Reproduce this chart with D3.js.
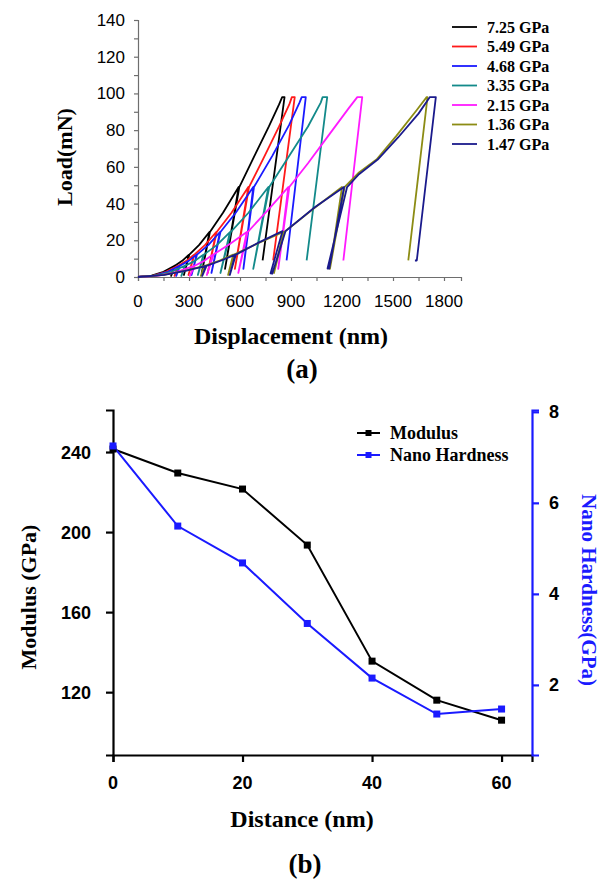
<!DOCTYPE html>
<html>
<head>
<meta charset="utf-8">
<script src="https://cdn.jsdelivr.net/npm/d3@7"></script>
<style>
  body { margin: 0; background: #fff; }
  svg { display: block; }
</style>
</head>
<body>
<div class="main"></div>
<script>
const w = 600;
const h = 882;

// ---- panel (a): load / displacement curves ----
const hardnessLabels = ['7.25 GPa', '5.49 GPa', '4.68 GPa', '3.35 GPa', '2.15 GPa', '1.36 GPa', '1.47 GPa'];
const curveColors = ['#000000', '#ff1a1a', '#1a1aff', '#138a8a', '#ff1aff', '#8c8c14', '#1a1a8c'];

// [displacement nm, load mN]
const curveBlack = [[0,0],[80,0.8],[150,2.8],[215,6.1],[195,0.6],[217,6.1],[260,8.8],[300,12.2],[270,1.1],[302,12.2],
  [360,17.5],[420,24.5],[375,2.2],[423,24.5],[500,35],[592,49],[512,4.4],[596,49],[680,65],[770,82],[830,94],[848,98],[862,98],[733,9]];
const curveRed = [[0,0],[90,0.8],[165,2.8],[235,6.1],[215,0.6],[237,6.1],[285,8.8],[330,12.2],[297,1.1],[332,12.2],
  [395,17.5],[460,24.5],[410,2.2],[463,24.5],[550,35],[649,49],[570,4.4],[653,49],[740,65],[830,82],[890,94],[905,98],[922,98],[795,9]];
const curveBlue = [[0,0],[95,0.8],[175,2.8],[245,6.1],[225,0.6],[247,6.1],[298,8.8],[345,12.2],[315,1.1],[347,12.2],
  [415,17.5],[482,24.5],[432,2.2],[485,24.5],[575,35],[678,49],[620,4.4],[682,49],[790,66],[890,83],[950,95],[963,98],[987,98],[874,9]];
const curveTeal = [[0,0],[105,0.8],[195,2.8],[275,6.1],[255,0.6],[277,6.1],[335,8.8],[385,12.2],[352,1.1],[388,12.2],
  [465,17.5],[541,24.5],[485,2.2],[545,24.5],[650,35],[767,49],[678,4.4],[772,49],[890,66],[1000,82],[1075,95],[1086,98],[1113,98],[992,9]];
const curveMagenta = [[0,0],[120,0.8],[230,2.8],[330,6.1],[305,0.6],[333,6.1],[390,8.8],[440,12.2],[405,1.1],[444,12.2],
  [540,18],[640,24.5],[590,2.2],[645,24.5],[760,36],[884,49],[825,4.4],[890,49],[1000,62],[1120,77],[1240,92],[1290,98],[1319,98],[1208,9]];
const curveOlive = [[0,0],[150,1.2],[280,3.5],[390,6.1],[370,0.6],[393,6.1],[480,9],[560,12.2],[530,1.1],[565,12.2],
  [710,18.5],[855,24.5],[800,2.2],[860,24.5],[1030,37],[1200,49],[1129,4.4],[1215,49],[1300,57],[1403,64],[1521,77],[1640,91],[1698,98],[1703,98],[1590,9]];
const curveNavy = [[0,0],[155,1.2],[285,3.5],[400,6.1],[378,0.6],[403,6.1],[490,9],[572,12.2],[540,1.1],[576,12.2],
  [715,19],[850,25],[780,2],[790,1.8],[868,25],[1040,38],[1212,49],[1125,4.6],[1115,4.6],[1230,49],[1300,56],[1410,64],[1530,76],[1650,89],[1717,98],[1752,98],[1640,9],[1629,9]];
const curves = [curveBlack, curveRed, curveBlue, curveTeal, curveMagenta, curveOlive, curveNavy];

const dispTicks = [0, 300, 600, 900, 1200, 1500, 1800];
const loadTicks = [0, 20, 40, 60, 80, 100, 120, 140];

// ---- panel (b): modulus / hardness vs distance ----
const distances = [0, 10, 20, 30, 40, 50, 60];
const modulus = [241.5, 229.5, 221.5, 193.5, 135.5, 116, 106];
const hardness = [7.25, 5.49, 4.68, 3.35, 2.15, 1.36, 1.47];
const distTicks = [0, 20, 40, 60];
const modTicks = [120, 160, 200, 240];
const hardTicks = [2, 4, 6, 8];

const serif = '"Liberation Serif", "Times New Roman", serif';
const sans = '"Liberation Sans", Arial, sans-serif';

const svg = d3.select('.main').append('svg').attr('width', w).attr('height', h);

// ===== panel (a) =====
const xA = d3.scaleLinear().domain([0, 1900]).range([138, 461]);
const yA = d3.scaleLinear().domain([0, 140]).range([277, 20]);

const gA = svg.append('g');

const axA = gA.append('g').attr('transform', 'translate(0,' + yA(0) + ')')
  .call(d3.axisBottom(xA).tickValues(d3.range(0, 1901, 150)).tickSize(4).tickFormat(''));
const ayA = gA.append('g').attr('transform', 'translate(' + xA(0) + ',0)')
  .call(d3.axisLeft(yA).tickValues(d3.range(0, 141, 10)).tickSize(4).tickFormat(''));
[axA, ayA].forEach(function (a) {
  a.selectAll('path,line').attr('stroke', '#6e6e6e').attr('stroke-width', 1.2);
});

gA.selectAll('text.xl').data(dispTicks).enter().append('text')
  .attr('x', d => xA(d)).attr('y', 307)
  .attr('text-anchor', 'middle').attr('font-family', sans).attr('font-size', 17)
  .text(d => d);
gA.selectAll('text.yl').data(loadTicks).enter().append('text')
  .attr('x', 125).attr('y', d => yA(d) + 6)
  .attr('text-anchor', 'end').attr('font-family', sans).attr('font-size', 17)
  .text(d => d);

const lineA = d3.line().x(d => xA(d[0])).y(d => yA(d[1]));
gA.selectAll('path.curve').data(curves).enter().append('path')
  .attr('d', lineA)
  .attr('fill', 'none')
  .attr('stroke', (d, i) => curveColors[i])
  .attr('stroke-width', 1.8)
  .attr('stroke-linejoin', 'round');

gA.append('text').attr('transform', 'translate(72,157) rotate(-90)')
  .attr('text-anchor', 'middle').attr('font-family', serif).attr('font-weight', 'bold').attr('font-size', 22)
  .text('Load(mN)');
gA.append('text').attr('x', 291).attr('y', 344)
  .attr('text-anchor', 'middle').attr('font-family', serif).attr('font-weight', 'bold').attr('font-size', 24)
  .text('Displacement (nm)');
gA.append('text').attr('x', 302).attr('y', 378)
  .attr('text-anchor', 'middle').attr('font-family', serif).attr('font-weight', 'bold').attr('font-size', 27)
  .text('(a)');

const legA = gA.append('g');
hardnessLabels.forEach(function (lab, i) {
  const y = 27 + i * 19.5;
  legA.append('line').attr('x1', 452).attr('x2', 477).attr('y1', y).attr('y2', y)
    .attr('stroke', curveColors[i]).attr('stroke-width', 1.8);
  legA.append('text').attr('x', 487).attr('y', y + 5.5)
    .attr('font-family', serif).attr('font-weight', 'bold').attr('font-size', 16)
    .text(lab);
});

// ===== panel (b) =====
const xB = d3.scaleLinear().domain([0, 64.7]).range([113, 532]);
const yL = d3.scaleLinear().domain([88.6, 261]).range([755, 410]);
const yR = d3.scaleLinear().domain([0.46, 8.04]).range([755, 410]);

const gB = svg.append('g');

const axB = gB.append('g').attr('transform', 'translate(0,755)')
  .call(d3.axisBottom(xB).tickValues(distTicks).tickSize(7).tickFormat(''));
axB.select('path').attr('stroke', '#000').attr('stroke-width', 2.2);
axB.selectAll('line').attr('stroke', '#000').attr('stroke-width', 2.2);

const ayL = gB.append('g').attr('transform', 'translate(' + xB(0) + ',0)')
  .call(d3.axisLeft(yL).tickValues(modTicks).tickSize(7).tickFormat(''));
ayL.select('path').attr('stroke', '#000').attr('stroke-width', 2.2);
ayL.selectAll('line').attr('stroke', '#000').attr('stroke-width', 2.2);

const ayR = gB.append('g').attr('transform', 'translate(532,0)')
  .call(d3.axisRight(yR).tickValues(hardTicks).tickSize(7).tickFormat(''));
ayR.select('path').attr('stroke', '#1a1aff').attr('stroke-width', 2.2);
ayR.selectAll('line').attr('stroke', '#1a1aff').attr('stroke-width', 2.2);

gB.selectAll('text.xb').data(distTicks).enter().append('text')
  .attr('x', d => xB(d)).attr('y', 789)
  .attr('text-anchor', 'middle').attr('font-family', sans).attr('font-weight', 'bold').attr('font-size', 18)
  .text(d => d);
gB.selectAll('text.yb').data(modTicks).enter().append('text')
  .attr('x', 91).attr('y', d => yL(d) + 6.5)
  .attr('text-anchor', 'end').attr('font-family', sans).attr('font-weight', 'bold').attr('font-size', 18)
  .text(d => d);
gB.selectAll('text.yr').data(hardTicks).enter().append('text')
  .attr('x', 549).attr('y', d => yR(d) + 6.5)
  .attr('text-anchor', 'start').attr('font-family', sans).attr('font-weight', 'bold').attr('font-size', 18)
  .text(d => d);

const modLine = d3.line().x((d, i) => xB(distances[i])).y(d => yL(d));
const hardLine = d3.line().x((d, i) => xB(distances[i])).y(d => yR(d));

gB.append('path').datum(modulus).attr('d', modLine)
  .attr('fill', 'none').attr('stroke', '#000').attr('stroke-width', 2);
gB.append('path').datum(hardness).attr('d', hardLine)
  .attr('fill', 'none').attr('stroke', '#1a1aff').attr('stroke-width', 2);

gB.selectAll('rect.mm').data(modulus).enter().append('rect')
  .attr('x', (d, i) => xB(distances[i]) - 3.5).attr('y', d => yL(d) - 3.5)
  .attr('width', 7).attr('height', 7).attr('fill', '#000');
gB.selectAll('rect.hm').data(hardness).enter().append('rect')
  .attr('x', (d, i) => xB(distances[i]) - 3.5).attr('y', d => yR(d) - 3.5)
  .attr('width', 7).attr('height', 7).attr('fill', '#1a1aff');

gB.append('text').attr('transform', 'translate(36,597) rotate(-90)')
  .attr('text-anchor', 'middle').attr('font-family', serif).attr('font-weight', 'bold').attr('font-size', 22)
  .text('Modulus (GPa)');
gB.append('text').attr('transform', 'translate(582,590) rotate(90)')
  .attr('text-anchor', 'middle').attr('font-family', serif).attr('font-weight', 'bold').attr('font-size', 21)
  .attr('fill', '#1a1aff')
  .text('Nano Hardness(GPa)');
gB.append('text').attr('x', 302).attr('y', 827)
  .attr('text-anchor', 'middle').attr('font-family', serif).attr('font-weight', 'bold').attr('font-size', 24)
  .text('Distance (nm)');
gB.append('text').attr('x', 305).attr('y', 873)
  .attr('text-anchor', 'middle').attr('font-family', serif).attr('font-weight', 'bold').attr('font-size', 27)
  .text('(b)');

const legB = [['Modulus', '#000', 433], ['Nano Hardness', '#1a1aff', 455]];
legB.forEach(function (l) {
  svg.append('line').attr('x1', 357).attr('x2', 380).attr('y1', l[2]).attr('y2', l[2])
    .attr('stroke', l[1]).attr('stroke-width', 2);
  svg.append('rect').attr('x', 365.5).attr('y', l[2] - 3).attr('width', 6).attr('height', 6).attr('fill', l[1]);
  svg.append('text').attr('x', 390).attr('y', l[2] + 6)
    .attr('font-family', serif).attr('font-weight', 'bold').attr('font-size', 18)
    .text(l[0]);
});
</script>
</body>
</html>
